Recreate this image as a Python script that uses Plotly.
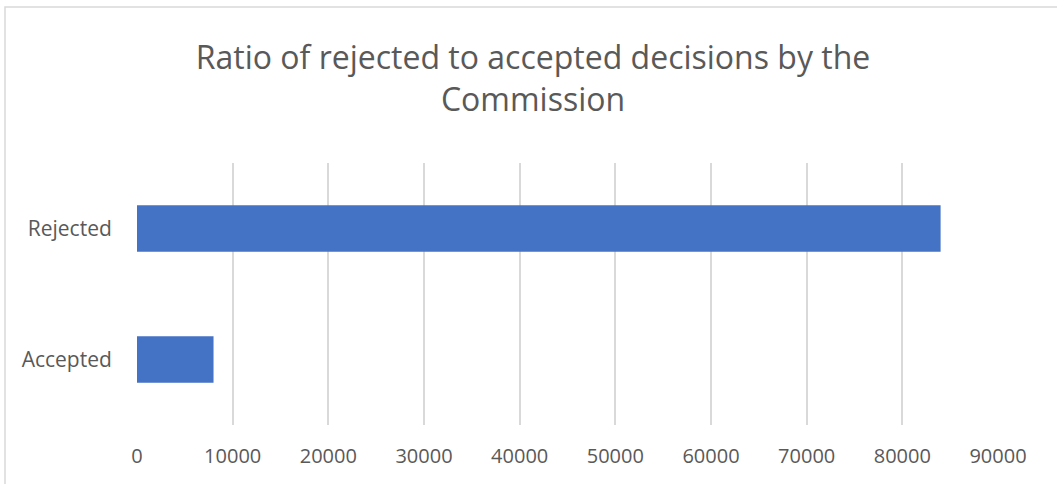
import plotly.graph_objects as go

# Data
categories = ["Accepted", "Rejected"]
decisions = [8000, 84000]
tick_values = [0, 10000, 20000, 30000, 40000, 50000, 60000, 70000, 80000, 90000]

W, H = 1057, 484
L, R, T, B = 137, 59, 163, 59
plot_w = W - L - R
plot_h = H - T - B

fig = go.Figure()

fig.add_trace(
    go.Bar(
        x=decisions,
        y=categories,
        orientation="h",
        marker=dict(color="#4472C4", line=dict(width=0)),
        showlegend=False,
    )
)

fig.update_layout(
    width=W,
    height=H,
    margin=dict(l=L, r=R, t=T, b=B),
    paper_bgcolor="#ffffff",
    plot_bgcolor="#ffffff",
    font=dict(family="Open Sans", color="#595959", size=20),
    title=dict(
        text="Ratio of rejected to accepted decisions by the<br>Commission",
        x=533 / W,
        xanchor="center",
        y=1 - 69 / H,
        yanchor="middle",
        font=dict(family="Open Sans", size=32, color="#595959"),
    ),
    bargap=0.644,
    # chart border (left and top visible in the reference)
    shapes=[
        dict(
            type="rect",
            xref="paper",
            yref="paper",
            x0=(5 - L) / plot_w,
            x1=(1090 - L) / plot_w,
            y0=(T + plot_h - 520) / plot_h,
            y1=(T + plot_h - 7) / plot_h,
            line=dict(color="#d9d9d9", width=1.5),
            fillcolor="rgba(0,0,0,0)",
            layer="below",
        )
    ],
)

fig.update_xaxes(
    range=[0, 90000],
    tickvals=tick_values,
    ticktext=[str(v) for v in tick_values],
    showgrid=True,
    gridcolor="#d9d9d9",
    gridwidth=1.5,
    zeroline=False,
    showline=False,
    ticks="outside",
    ticklen=13,
    tickcolor="rgba(0,0,0,0)",
    fixedrange=True,
)

fig.update_yaxes(
    tickfont=dict(size=21),
    showgrid=False,
    zeroline=False,
    showline=False,
    ticks="outside",
    ticklen=20,
    tickcolor="rgba(0,0,0,0)",
    fixedrange=True,
)

# drop the default page margin so the figure sits at the window's corner
fig.write_html(
    "out.html",
    config={"displayModeBar": False},
    post_script="document.body.style.margin='0';",
)
